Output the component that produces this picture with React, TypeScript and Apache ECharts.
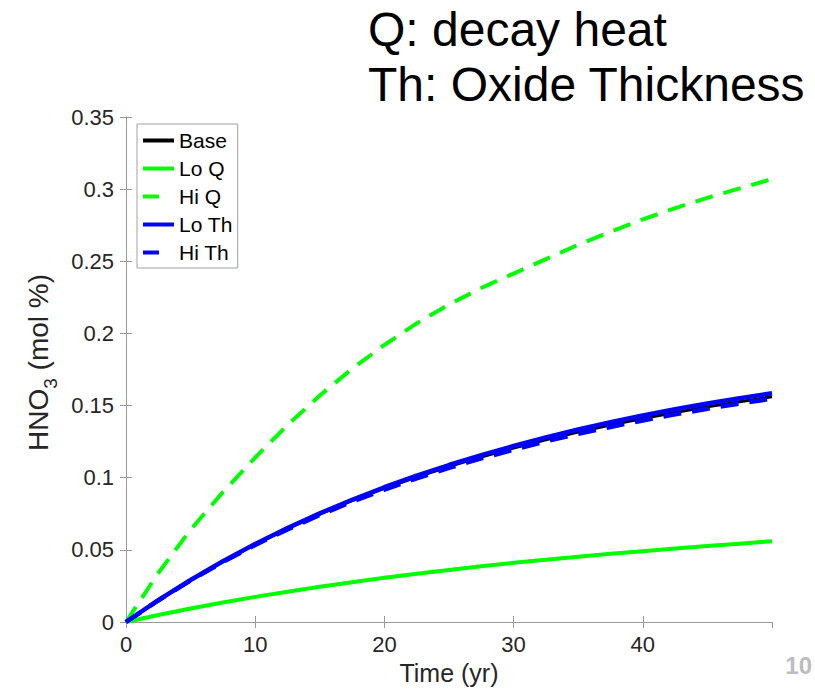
import React, { useEffect, useRef } from "react";
import * as echarts from "echarts";

// Sample times (yr)
const years = [0, 2.5, 5, 7.5, 10, 12.5, 15, 17.5, 20, 22.5, 25, 27.5, 30, 32.5, 35, 37.5, 40, 42.5, 45, 47.5, 50];

// HNO3 concentration (mol %) for each case
const baseCase = [0, 0.0150, 0.0290, 0.0419, 0.0538, 0.0647, 0.0748, 0.0841, 0.0926, 0.1005, 0.1077, 0.1144, 0.1206, 0.1263, 0.1316, 0.1365, 0.1410, 0.1452, 0.1491, 0.1527, 0.1561];
const loQ = [0, 0.0048, 0.0093, 0.0135, 0.0174, 0.0210, 0.0244, 0.0276, 0.0306, 0.0334, 0.0361, 0.0386, 0.0410, 0.0432, 0.0453, 0.0473, 0.0491, 0.0509, 0.0526, 0.0543, 0.0560];
const hiQ = [0, 0.0340, 0.0640, 0.0900, 0.1140, 0.1365, 0.1570, 0.1755, 0.1920, 0.2070, 0.2200, 0.2315, 0.2415, 0.2515, 0.2615, 0.2705, 0.2790, 0.2868, 0.2940, 0.3005, 0.3070];
const loTh = [0, 0.0151, 0.0291, 0.0421, 0.0541, 0.0651, 0.0753, 0.0847, 0.0934, 0.1015, 0.1088, 0.1157, 0.1220, 0.1279, 0.1334, 0.1384, 0.1431, 0.1474, 0.1514, 0.1551, 0.1585];
const hiTh = [0, 0.0149, 0.0288, 0.0416, 0.0534, 0.0642, 0.0742, 0.0834, 0.0918, 0.0996, 0.1068, 0.1134, 0.1195, 0.1252, 0.1304, 0.1352, 0.1397, 0.1439, 0.1478, 0.1514, 0.1548];

const seriesNames = ["Base", "Lo Q", "Hi Q", "Lo Th", "Hi Th"];

const FONT = "'Liberation Sans', Arial, Helvetica, sans-serif";
const DASH = [18, 11];

function pairs(values: number[]) {
  return years.map((t, i) => [t, values[i]]);
}

export default function App() {
  const ref = useRef<HTMLDivElement>(null);

  useEffect(() => {
    if (!ref.current) return;
    const chart = echarts.init(ref.current, undefined, { renderer: "svg" });

    const boxColor = "#9a9a9a";
    const labelColor = "#262626";

    const tickFmt = (v: number) => String(+v.toFixed(2));

    const xCommon = {
      type: "value" as const,
      min: 0,
      max: 50,
      interval: 10,
      axisLine: { show: true, lineStyle: { color: boxColor, width: 1 } },
      axisTick: { show: true, inside: true, length: 6, lineStyle: { color: boxColor } },
      splitLine: { show: false },
    };
    const yCommon = {
      type: "value" as const,
      min: 0,
      max: 0.35,
      interval: 0.05,
      axisLine: { show: true, lineStyle: { color: boxColor, width: 1 } },
      axisTick: { show: true, inside: true, length: 6, lineStyle: { color: boxColor } },
      splitLine: { show: false },
    };

    const line = (
      name: string,
      values: number[],
      color: string,
      width: number,
      dashed: boolean,
      z: number
    ) => ({
      name,
      type: "line" as const,
      data: pairs(values),
      symbol: "none",
      showSymbol: false,
      z,
      lineStyle: { color, width, type: dashed ? DASH : "solid", cap: "butt" },
      itemStyle: { color },
    });

    chart.setOption({
      animation: false,
      textStyle: { fontFamily: FONT },
      title: {
        text: "Q: decay heat\nTh: Oxide Thickness",
        left: 363,
        top: -3,
        textStyle: {
          fontFamily: FONT,
          fontSize: 48,
          lineHeight: 55,
          fontWeight: "normal",
          color: "#000",
        },
      },
      grid: { left: 126, right: 43, top: 117, bottom: 69, containLabel: false },
      legend: {
        left: 137,
        top: 124,
        orient: "vertical",
        backgroundColor: "#fff",
        borderColor: "#a0a0a0",
        borderWidth: 1,
        borderRadius: 0,
        padding: [6, 5, 5, 4],
        itemGap: 7,
        itemWidth: 31,
        itemHeight: 4,
        itemTextGap: 2,
        itemStyle: { opacity: 0 },
        lineStyle: { width: 4 },
        textStyle: { fontFamily: FONT, fontSize: 21, lineHeight: 20.5, color: "#000" },
        data: [
          { name: "Base" },
          { name: "Lo Q" },
          { name: "Hi Q", lineStyle: { width: 4, type: [16, 40] } },
          { name: "Lo Th" },
          { name: "Hi Th", lineStyle: { width: 4, type: [16, 40] } },
        ],
      },
      xAxis: [
        {
          ...xCommon,
          position: "bottom",
          name: "Time (yr)",
          nameLocation: "middle",
          nameGap: 38,
          nameTextStyle: { fontFamily: FONT, fontSize: 25, color: labelColor },
          axisLabel: {
            show: true,
            showMaxLabel: false,
            margin: 11,
            fontFamily: FONT,
            fontSize: 22,
            color: labelColor,
          },
        },
        {
          ...xCommon,
          position: "top",
          axisLabel: { show: false },
        },
      ],
      yAxis: [
        {
          ...yCommon,
          position: "left",
          name: "{a|HNO}{s|3}{a| (mol %)}",
          nameLocation: "middle",
          nameGap: 70,
          nameTextStyle: {
            color: labelColor,
            padding: [0, 0, 0, 14],
            rich: {
              a: { fontFamily: FONT, fontSize: 28, lineHeight: 32, color: labelColor },
              s: {
                fontFamily: FONT,
                fontSize: 19,
                lineHeight: 32,
                color: labelColor,
                verticalAlign: "bottom",
                padding: [0, 0, -6, 0],
              },
            },
          },
          axisLabel: {
            show: true,
            margin: 12,
            fontFamily: FONT,
            fontSize: 22,
            color: labelColor,
            formatter: tickFmt,
          },
        },
        {
          ...yCommon,
          position: "right",
          axisLabel: { show: false },
        },
      ],
      series: [
        line(seriesNames[0], baseCase, "#000000", 3, false, 2),
        line(seriesNames[1], loQ, "#00ff00", 4, false, 3),
        line(seriesNames[2], hiQ, "#00ff00", 4, true, 4),
        line(seriesNames[3], loTh, "#0000ff", 4.5, false, 5),
        line(seriesNames[4], hiTh, "#0000ff", 4.5, true, 6),
      ],
      graphic: [
        {
          type: "text",
          right: 3,
          top: 653,
          style: {
            text: "10",
            fontFamily: FONT,
            fontSize: 24,
            fontWeight: "bold",
            fill: "#bdbdbd",
          },
        },
      ],
    });

    return () => chart.dispose();
  }, []);

  return (
    <div
      ref={ref}
      style={{ position: "fixed", left: 0, top: 0, width: 815, height: 691, background: "#fff" }}
    />
  );
}
